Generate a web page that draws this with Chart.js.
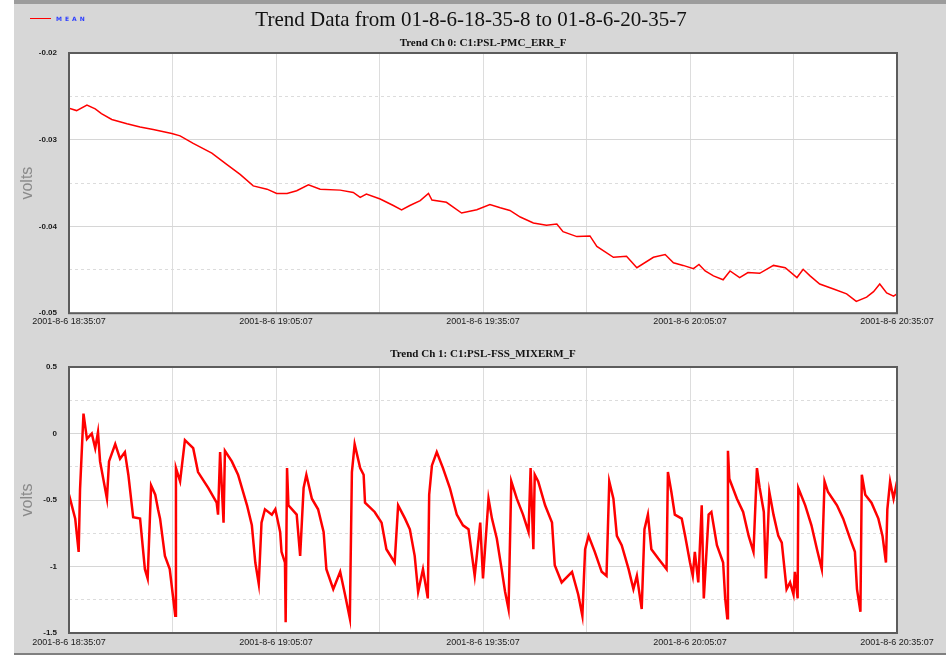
<!DOCTYPE html>
<html>
<head>
<meta charset="utf-8">
<script src="https://cdn.jsdelivr.net/npm/chart.js@4.4.1/dist/chart.umd.min.js"></script>
<style>
  html, body { margin: 0; padding: 0; background: #ffffff; }
  #panel {
    position: absolute; left: 14px; top: 0; width: 932px; height: 655px;
    background: #d7d7d7; border-top: 4px solid #9c9c9c; border-bottom: 2px solid #808080;
    box-sizing: border-box;
  }
  canvas { position: absolute; left: 0; }
  #ch0 { top: 0; }
  #ch1 { top: 330px; }
</style>
</head>
<body>
<div id="panel"></div>
<canvas id="ch0" width="946" height="330"></canvas>
<canvas id="ch1" width="946" height="330"></canvas>
<script>
// ---- trend data, 2001-8-6 18:35:07 .. 20:35:07 (minutes from start) ----
const mainTitle = 'Trend Data from 01-8-6-18-35-8 to 01-8-6-20-35-7';
const seriesName = 'MEAN';
const timeLabels = ['2001-8-6 18:35:07', '2001-8-6 19:05:07', '2001-8-6 19:35:07',
                    '2001-8-6 20:05:07', '2001-8-6 20:35:07'];

// Channel 0: C1:PSL-PMC_ERR_F
const ch0Title = 'Trend Ch 0: C1:PSL-PMC_ERR_F';
const ch0TickLabels = ['-0.05', '-0.04', '-0.03', '-0.02'];
const ch0Minutes = [0.0, 1.1, 2.6, 3.8, 4.7, 6.2, 8.4, 10.3, 12.2, 14.9, 16.1, 18.0, 20.7, 22.9,
  24.8, 26.7, 28.7, 30.1, 31.6, 33.0, 34.7, 36.4, 39.3, 41.2, 42.2, 43.1, 45.1, 47.0, 48.2, 49.4,
  50.9, 52.1, 52.6, 54.7, 56.9, 59.1, 61.0, 62.5, 63.9, 65.4, 67.3, 69.2, 70.7, 71.6, 73.6, 75.5,
  76.5, 78.9, 80.8, 82.3, 84.7, 86.4, 87.6, 89.0, 90.5, 91.3, 92.2, 93.4, 94.8, 95.8, 97.2, 98.4,
  100.1, 102.1, 103.8, 105.5, 106.4, 107.4, 108.8, 110.8, 112.7, 114.1, 115.6, 116.6, 117.5,
  118.5, 119.5, 120.0];
const ch0Volts = [-0.02637, -0.02664, -0.02600, -0.02645, -0.02700, -0.02766, -0.02815, -0.02853,
  -0.02883, -0.02928, -0.02955, -0.03042, -0.03155, -0.03287, -0.03400, -0.03532, -0.03570,
  -0.03619, -0.03619, -0.03588, -0.03520, -0.03570, -0.03581, -0.03608, -0.03664, -0.03627,
  -0.03683, -0.03758, -0.03808, -0.03758, -0.03702, -0.03619, -0.03695, -0.03721, -0.03845,
  -0.03808, -0.03747, -0.03785, -0.03815, -0.03891, -0.03959, -0.03985, -0.03973, -0.04060,
  -0.04117, -0.04109, -0.04230, -0.04355, -0.04343, -0.04476, -0.04355, -0.04324, -0.04419,
  -0.04449, -0.04487, -0.04438, -0.04513, -0.04570, -0.04615, -0.04513, -0.04589, -0.04532,
  -0.04540, -0.04449, -0.04476, -0.04589, -0.04494, -0.04570, -0.04664, -0.04721, -0.04777,
  -0.04864, -0.04815, -0.04751, -0.04664, -0.04766, -0.04804, -0.04777];

// Channel 1: C1:PSL-FSS_MIXERM_F
const ch1Title = 'Trend Ch 1: C1:PSL-FSS_MIXERM_F';
const ch1TickLabels = ['-1.5', '-1', '-0.5', '0', '0.5'];
const ch1Minutes = [0.0, 0.9, 1.4, 1.6, 2.1, 2.6, 3.3, 3.8, 4.2, 4.5, 5.5, 5.8, 6.7, 7.4, 8.1, 8.6,
  9.3, 10.3, 11.0, 11.4, 11.9, 12.5, 12.9, 13.2, 13.9, 14.6, 15.4, 15.5, 16.1, 16.8, 18.0, 18.7,
  20.2, 21.4, 21.6, 21.9, 22.4, 22.6, 23.6, 24.5, 25.8, 26.5, 27.0, 27.5, 27.9, 28.4, 29.4, 29.9,
  30.6, 30.8, 31.3, 31.4, 31.6, 31.8, 33.0, 33.5, 34.0, 34.4, 35.2, 36.1, 36.9, 37.3, 38.3, 39.3,
  40.0, 40.7, 41.0, 41.4, 42.2, 42.7, 42.9, 44.3, 45.3, 46.0, 47.2, 47.7, 48.7, 49.4, 50.1, 50.6,
  51.3, 52.0, 52.2, 52.6, 53.3, 54.2, 55.2, 56.2, 57.1, 57.9, 58.8, 59.6, 60.0, 60.8, 61.3, 62.0,
  62.7, 63.2, 63.7, 64.1, 64.9, 65.8, 66.6, 66.9, 67.3, 67.5, 68.0, 69.0, 70.0, 70.4, 71.4, 72.9,
  73.8, 74.4, 74.8, 75.3, 76.2, 77.2, 77.9, 78.3, 78.9, 79.4, 80.1, 81.1, 81.8, 82.3, 83.0, 83.4,
  83.9, 84.4, 85.4, 86.6, 86.8, 87.3, 87.8, 88.8, 89.3, 90.0, 90.4, 90.7, 91.2, 91.7, 92.0, 92.7,
  93.1, 93.9, 94.8, 95.1, 95.4, 95.5, 95.7, 96.8, 97.7, 98.5, 99.2, 99.7, 100.1, 100.7, 101.0,
  101.5, 102.1, 102.8, 103.3, 104.0, 104.5, 105.0, 105.2, 105.6, 105.7, 106.7, 107.6, 108.4,
  109.1, 109.5, 110.0, 111.3, 112.2, 113.2, 113.9, 114.2, 114.7, 114.9, 115.4, 116.3, 117.3,
  117.9, 118.4, 118.6, 119.0, 119.5, 120.0];
const ch1Volts = [-0.46, -0.64, -0.89, -0.42, 0.15, -0.04, 0.00, -0.11, 0.01, -0.21, -0.49, -0.21,
  -0.08, -0.19, -0.14, -0.31, -0.63, -0.64, -1.02, -1.09, -0.39, -0.46, -0.57, -0.64, -0.92, -1.02,
  -1.37, -0.26, -0.36, -0.05, -0.11, -0.29, -0.41, -0.52, -0.61, -0.14, -0.67, -0.13, -0.21, -0.31,
  -0.54, -0.69, -0.97, -1.13, -0.67, -0.57, -0.61, -0.57, -0.74, -0.89, -0.97, -1.42, -0.26, -0.54,
  -0.61, -0.92, -0.41, -0.31, -0.49, -0.57, -0.74, -1.02, -1.17, -1.04, -1.21, -1.39, -0.29, -0.08,
  -0.26, -0.31, -0.52, -0.59, -0.67, -0.87, -0.97, -0.54, -0.64, -0.72, -0.92, -1.19, -1.02, -1.24,
  -0.46, -0.24, -0.14, -0.26, -0.41, -0.61, -0.69, -0.72, -1.07, -0.67, -1.09, -0.49, -0.64, -0.79,
  -1.02, -1.19, -1.32, -0.36, -0.49, -0.61, -0.74, -0.26, -0.87, -0.31, -0.36, -0.54, -0.67, -0.99,
  -1.12, -1.04, -1.21, -1.37, -0.87, -0.77, -0.89, -1.04, -1.07, -0.36, -0.49, -0.77, -0.84, -1.02,
  -1.17, -1.07, -1.32, -0.72, -0.61, -0.87, -0.94, -1.02, -0.29, -0.44, -0.61, -0.64, -0.77, -0.97,
  -1.07, -0.89, -1.12, -0.54, -1.24, -0.61, -0.59, -0.84, -0.97, -1.24, -1.39, -0.13, -0.34, -0.49,
  -0.59, -0.77, -0.89, -0.26, -0.41, -0.59, -1.09, -0.44, -0.61, -0.77, -0.82, -1.17, -1.12, -1.21,
  -1.04, -1.24, -0.41, -0.54, -0.69, -0.87, -1.02, -0.36, -0.44, -0.54, -0.64, -0.79, -0.89, -1.17,
  -1.34, -0.31, -0.46, -0.52, -0.64, -0.77, -0.97, -0.57, -0.36, -0.49, -0.36];

const LINE_RED = '#ff0000';
const PLOT_LEFT = 69, PLOT_RIGHT_GAP = 49;

// white plot background and dark frame around the plotting area
const framePlugin = {
  id: 'plotFrame',
  beforeDraw(chart) {
    const a = chart.chartArea, ctx = chart.ctx;
    ctx.save();
    ctx.fillStyle = '#ffffff';
    ctx.fillRect(a.left, a.top, a.right - a.left, a.bottom - a.top);
    ctx.restore();
  },
  afterDraw(chart) {
    const a = chart.chartArea, ctx = chart.ctx;
    ctx.save();
    ctx.strokeStyle = '#5c5c5c';
    ctx.lineWidth = 2;
    ctx.strokeRect(a.left, a.top, a.right - a.left, a.bottom - a.top);
    ctx.restore();
  }
};

// page heading and series key, drawn on the upper panel
const headingPlugin = {
  id: 'heading',
  afterDraw(chart) {
    const ctx = chart.ctx;
    const ds = chart.data.datasets[0];
    ctx.save();
    ctx.fillStyle = '#111111';
    ctx.font = '21px "Liberation Serif"';
    ctx.textAlign = 'center';
    ctx.textBaseline = 'middle';
    ctx.fillText(mainTitle, 471, 20);
    ctx.strokeStyle = ds.borderColor;
    ctx.lineWidth = 1;
    ctx.beginPath();
    ctx.moveTo(30, 18.5);
    ctx.lineTo(51, 18.5);
    ctx.stroke();
    ctx.fillStyle = '#2a3cff';
    ctx.font = 'bold 6px "DejaVu Sans"';
    ctx.textAlign = 'left';
    if ('letterSpacing' in ctx) ctx.letterSpacing = '3px';
    ctx.fillText(ds.label, 56, 19);
    ctx.restore();
  }
};

function buildChart(canvasId, cfg) {
  const points = cfg.minutes.map((m, i) => ({ x: m, y: cfg.volts[i] }));
  const isMajor = v => Math.abs(v / cfg.major - Math.round(v / cfg.major)) < 1e-6;
  return new Chart(document.getElementById(canvasId), {
    type: 'line',
    data: {
      datasets: [{
        label: seriesName,
        data: points,
        borderColor: LINE_RED,
        borderWidth: cfg.lineWidth,
        pointRadius: 0,
        tension: 0
      }]
    },
    options: {
      responsive: false,
      animation: false,
      devicePixelRatio: 1,
      layout: { padding: { left: 0, right: PLOT_RIGHT_GAP, top: cfg.padTop, bottom: 0 } },
      plugins: {
        legend: { display: false },
        tooltip: { enabled: false },
        title: {
          display: true,
          text: cfg.title,
          fullSize: false,
          color: '#111111',
          font: { family: 'Liberation Serif', size: 11, weight: 'bold', lineHeight: 1 },
          padding: { top: 0, bottom: cfg.titleGap }
        }
      },
      scales: {
        x: {
          type: 'linear',
          min: 0, max: 120,
          afterFit(s) { s.height = cfg.xAxisH; },
          border: { display: false },
          grid: { color: '#dddddd', lineWidth: 1, drawTicks: false },
          ticks: {
            stepSize: 15,
            autoSkip: false,
            maxRotation: 0,
            padding: cfg.xPad,
            color: '#1a1a1a',
            font: { family: 'Liberation Sans', size: 9 },
            callback: v => (v % 30 === 0 ? timeLabels[v / 30] : '')
          }
        },
        y: {
          min: cfg.yMin, max: cfg.yMax,
          afterFit(s) { s.width = PLOT_LEFT; },
          border: {
            display: false,
            dash: c => (c.tick && !isMajor(c.tick.value) ? [3, 3] : [])
          },
          grid: {
            drawTicks: false,
            lineWidth: 1,
            color: c => (c.tick && isMajor(c.tick.value) ? '#d6d6d6' : '#dcdcdc')
          },
          ticks: {
            stepSize: cfg.major / 2,
            autoSkip: false,
            padding: 12,
            color: '#1a1a1a',
            font: { family: 'Liberation Sans', size: 8, weight: 'bold' },
            callback: v => (isMajor(v) ? cfg.tickLabels[Math.round((v - cfg.yMin) / cfg.major)] : '')
          },
          title: {
            display: true,
            text: 'volts',
            color: '#8a8a8a',
            font: { family: 'Liberation Sans', size: 16, lineHeight: 1.2 },
            padding: { top: 18, bottom: 0 }
          }
        }
      }
    },
    plugins: cfg.extraPlugins
  });
}

buildChart('ch0', {
  title: ch0Title, minutes: ch0Minutes, volts: ch0Volts, tickLabels: ch0TickLabels,
  yMin: -0.05, yMax: -0.02, major: 0.01, lineWidth: 1.5,
  padTop: 38, titleGap: 4, xAxisH: 12, xPad: 3,
  extraPlugins: [framePlugin, headingPlugin]
});

buildChart('ch1', {
  title: ch1Title, minutes: ch1Minutes, volts: ch1Volts, tickLabels: ch1TickLabels,
  yMin: -1.5, yMax: 0.5, major: 0.5, lineWidth: 2.5,
  padTop: 19, titleGap: 7, xAxisH: 27, xPad: 4,
  extraPlugins: [framePlugin]
});
</script>
</body>
</html>
